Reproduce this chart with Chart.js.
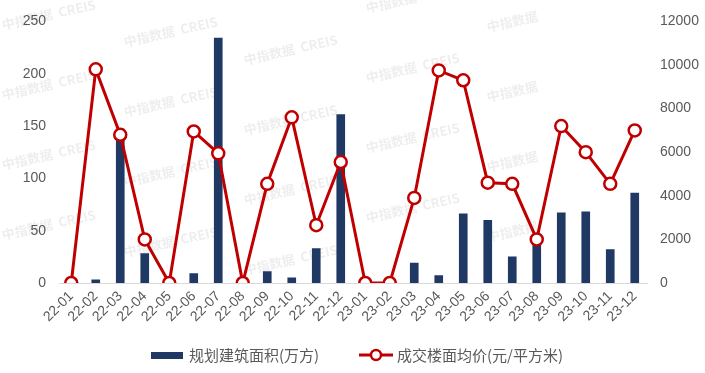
<!DOCTYPE html>
<html>
<head>
<meta charset="utf-8">
<script src="https://cdn.jsdelivr.net/npm/chart.js@4.4.0/dist/chart.umd.min.js"></script>
<style>
  html,body{margin:0;padding:0;background:#fff;}
  #wrap{width:705px;height:373px;}
</style>
</head>
<body>
<div id="wrap"><canvas id="chart" width="705" height="373"></canvas></div>
<script>
const months=["22-01","22-02","22-03","22-04","22-05","22-06","22-07","22-08","22-09","22-10","22-11","22-12",
  "23-01","23-02","23-03","23-04","23-05","23-06","23-07","23-08","23-09","23-10","23-11","23-12"];
const area=[0,3,147,28,0,9,234,0,11,5,33,161,0,0,19,7,66,60,25,40,67,68,32,86];
const price=[0,9800,6800,2000,0,6950,5950,0,4550,7600,2650,5550,0,0,3900,9750,9300,4600,4550,2000,7200,6000,4550,7000];
const leftTicks=[0,50,100,150,200,250];
const rightTicks=[0,2000,4000,6000,8000,10000,12000];
const areaLabel="规划建筑面积(万方)";
const priceLabel="成交楼面均价(元/平方米)";

const navy="#1F3864", red="#C00000", grey="#595959";
const numFont={family:"'Liberation Sans', Arial, sans-serif", size:14};

// faint watermark + custom legend
const extras={
  id:"extras",
  beforeDatasetsDraw(chart){
    const ctx=chart.ctx;
    ctx.save();
    ctx.font="bold 13px 'Noto Sans CJK SC', sans-serif";
    ctx.fillStyle="rgba(0,0,0,0.07)";
    const cols=[[3,30],[125,47],[245,65],[367,13]];
    cols.forEach(([x,y0])=>{
      for(let r=0;r<4;r++){
        ctx.save(); ctx.translate(x,y0+r*70); ctx.rotate(-0.22);
        ctx.fillText("中指数据  CREIS",0,0); ctx.restore();
      }
    });
    for(let r=0;r<4;r++){
      ctx.save(); ctx.translate(488,32+r*70); ctx.rotate(-0.22);
      ctx.fillText("中指数据",0,0); ctx.restore();
    }
    ctx.restore();
  },
  afterDraw(chart){
    const ctx=chart.ctx;
    ctx.save();
    ctx.font="15px 'Noto Sans CJK SC', sans-serif";
    ctx.textBaseline="middle";
    const y=355;
    ctx.fillStyle=navy;
    ctx.fillRect(151,y-3,32,7);
    ctx.fillStyle=grey;
    ctx.fillText(areaLabel,189,y);
    ctx.strokeStyle=red; ctx.lineWidth=3;
    ctx.beginPath(); ctx.moveTo(359,y); ctx.lineTo(393,y); ctx.stroke();
    ctx.beginPath(); ctx.arc(376,y,5,0,Math.PI*2);
    ctx.fillStyle="#fff"; ctx.fill(); ctx.lineWidth=2.5; ctx.stroke();
    ctx.fillStyle=grey;
    ctx.fillText(priceLabel,397,y);
    ctx.restore();
  }
};

new Chart(document.getElementById("chart"),{
  type:"bar",
  data:{
    labels:months,
    datasets:[
      {type:"line",label:priceLabel,data:price,yAxisID:"y1",borderColor:red,borderWidth:3,
        pointRadius:6,pointBackgroundColor:"#fff",pointBorderColor:red,pointBorderWidth:2.5,tension:0,order:0},
      {type:"bar",label:areaLabel,data:area,yAxisID:"y",backgroundColor:navy,barThickness:8,order:1}
    ]
  },
  options:{
    responsive:false,animation:false,
    layout:{padding:{top:11,bottom:0,left:0,right:0}},
    plugins:{legend:{display:false},tooltip:{enabled:false}},
    scales:{
      x:{
        grid:{display:false,drawTicks:false},
        border:{color:"#d9d9d9",width:1},
        ticks:{color:grey,font:{family:"'Liberation Sans', Arial, sans-serif",size:14},maxRotation:45,minRotation:45,autoSkip:false,padding:5},
        afterFit(s){s.height=90;}
      },
      y:{
        position:"left",min:0,max:250,
        afterBuildTicks(s){s.ticks=leftTicks.map(v=>({value:v}));},
        grid:{display:false,drawTicks:false},border:{display:false},
        ticks:{color:grey,font:numFont,padding:13},
        afterFit(s){s.width=59;}
      },
      y1:{
        position:"right",min:0,max:12000,
        afterBuildTicks(s){s.ticks=rightTicks.map(v=>({value:v}));},
        grid:{display:false,drawTicks:false},border:{display:false},
        ticks:{color:grey,font:numFont,padding:13,callback:v=>String(v)},
        afterFit(s){s.width=58;}
      }
    }
  },
  plugins:[extras]
});
</script>
</body>
</html>
